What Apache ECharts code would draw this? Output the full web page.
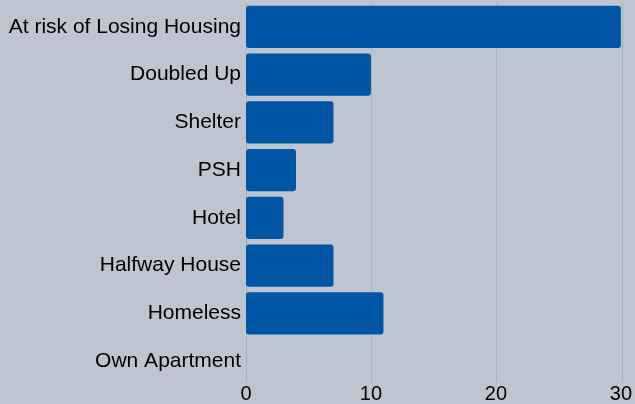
<!DOCTYPE html>
<html><head><meta charset="utf-8">
<script src="https://cdn.jsdelivr.net/npm/echarts@6/dist/echarts.min.js"></script>
<style>html,body{margin:0;padding:0;background:#bec4d0}#c{width:635px;height:404px}</style>
</head><body><div id="c"></div>
<script>
const categories = ["At risk of Losing Housing","Doubled Up","Shelter","PSH","Hotel","Halfway House","Homeless","Own Apartment"];
const values = [30,10,7,4,3,7,11,0];
const xTicks = [0,10,20,30];
const chart = echarts.init(document.getElementById('c'));
chart.setOption({
  backgroundColor:'#bec4d0',
  animation:false,
  grid:[{left:246,right:13,top:3,bottom:18,containLabel:false},
        {left:246,right:13,top:3,bottom:22,containLabel:false}],
  xAxis:[{type:'value',gridIndex:0,min:xTicks[0],max:xTicks[xTicks.length-1],interval:10,
    axisLine:{show:false},axisTick:{show:false},splitLine:{show:false},
    axisLabel:{color:'#000',fontSize:20,fontFamily:'Liberation Sans',margin:-1}},
    {type:'value',gridIndex:1,min:xTicks[0],max:xTicks[xTicks.length-1],interval:10,
    axisLine:{show:false},axisTick:{show:false},axisLabel:{show:false},
    splitLine:{show:true,lineStyle:{color:'#a9afbb',width:1}}}],
  yAxis:[{type:'category',gridIndex:0,data:categories,inverse:true,z:3,
    axisLine:{show:false},axisTick:{show:false},
    axisLabel:{color:'#000',fontSize:21,fontFamily:'Liberation Sans',margin:5,padding:[4,0,0,0]}},
    {type:'category',gridIndex:1,data:categories,show:false}],
  series:[{type:'bar',xAxisIndex:0,yAxisIndex:0,data:values,barCategoryGap:'12%',z:5,
    itemStyle:{color:'#0055a5',borderRadius:3}}]
});
</script></body></html>
